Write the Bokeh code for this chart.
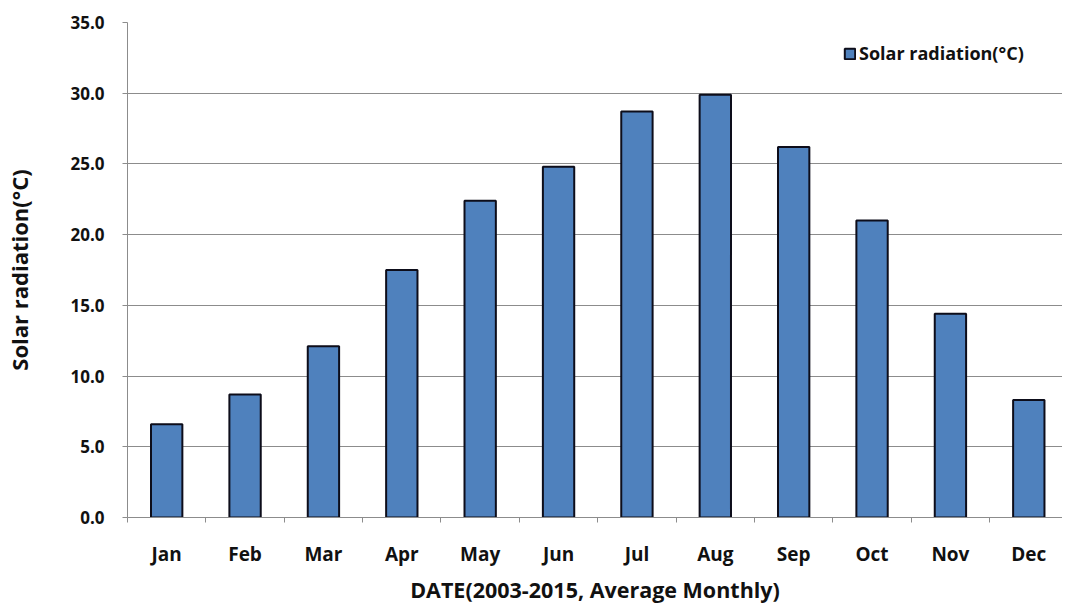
from bokeh.plotting import figure
from bokeh.models import Range1d, FixedTicker, Legend, LegendItem, ColumnDataSource, PrintfTickFormatter
from bokeh.embed import file_html
from bokeh.resources import INLINE

months = ["Jan", "Feb", "Mar", "Apr", "May", "Jun", "Jul", "Aug", "Sep", "Oct", "Nov", "Dec"]
solar = [6.6, 8.7, 12.1, 17.5, 22.4, 24.8, 28.7, 29.9, 26.2, 21.0, 14.4, 8.3]
y_ticks = [0, 5, 10, 15, 20, 25, 30, 35]
series_name = "Solar radiation(°C)"
x_title = "DATE(2003-2015, Average Monthly)"
y_title = "Solar radiation(°C)"

FONT = "Open Sans"
GRID = "#8c8c8c"

xs = [i + 0.5 for i in range(len(months))]
src = ColumnDataSource(dict(x=xs, top=solar, month=months))

p = figure(width=1062, height=610, output_backend="svg", toolbar_location=None,
           x_range=Range1d(0, 11.93), y_range=Range1d(0, 35),
           min_border_left=127, min_border_right=0, min_border_top=22, min_border_bottom=93)
p.outline_line_color = None
p.background_fill_color = "white"

r = p.vbar(x="x", top="top", width=0.4, source=src, fill_color="#4F81BD",
           line_color="#0d0d1a", line_width=2)

# x axis
p.xaxis.ticker = FixedTicker(ticks=xs, minor_ticks=list(range(len(months) + 1)))
p.xaxis.major_label_overrides = {x: m for x, m in zip(xs, months)}
p.xaxis.major_tick_line_color = None
p.xaxis.major_tick_out = 0
p.xaxis.major_tick_in = 0
p.xaxis.minor_tick_out = 5
p.xaxis.minor_tick_in = 0
p.xaxis.minor_tick_line_color = GRID
p.xaxis.axis_line_color = GRID
p.xaxis.major_label_standoff = 18
p.xaxis.major_label_text_font = FONT
p.xaxis.major_label_text_font_style = "bold"
p.xaxis.major_label_text_font_size = "19px"
p.xaxis.major_label_text_color = "#111111"
p.xaxis.axis_label = x_title
p.xaxis.axis_label_text_font = FONT
p.xaxis.axis_label_text_font_style = "bold"
p.xaxis.axis_label_text_font_size = "21.5px"
p.xaxis.axis_label_text_color = "#111111"
p.xaxis.axis_label_standoff = 5

# y axis
p.yaxis.ticker = FixedTicker(ticks=y_ticks)
p.yaxis.formatter = PrintfTickFormatter(format="%.1f")
p.yaxis.major_tick_out = 5
p.yaxis.major_tick_in = 0
p.yaxis.minor_tick_line_color = None
p.yaxis.major_tick_line_color = GRID
p.yaxis.axis_line_color = GRID
p.yaxis.major_label_standoff = 18
p.yaxis.major_label_text_font = FONT
p.yaxis.major_label_text_font_style = "bold"
p.yaxis.major_label_text_font_size = "17px"
p.yaxis.major_label_text_color = "#111111"
p.yaxis.axis_label = y_title
p.yaxis.axis_label_text_font = FONT
p.yaxis.axis_label_text_font_style = "bold"
p.yaxis.axis_label_text_font_size = "22px"
p.yaxis.axis_label_text_color = "#111111"
p.yaxis.axis_label_standoff = 33

p.xgrid.grid_line_color = None
p.ygrid.ticker = FixedTicker(ticks=y_ticks)
p.ygrid.grid_line_color = GRID
p.ygrid.grid_line_width = 1

legend = Legend(items=[LegendItem(label=series_name, renderers=[r])],
                location=(716, 452), border_line_color=None, background_fill_alpha=0,
                padding=0, margin=0, glyph_width=13, glyph_height=13, label_standoff=3,
                label_text_font=FONT, label_text_font_style="bold",
                label_text_font_size="18px", label_text_color="#111111")
p.add_layout(legend, "center")

open("out.html", "w").write(file_html(p, INLINE))
